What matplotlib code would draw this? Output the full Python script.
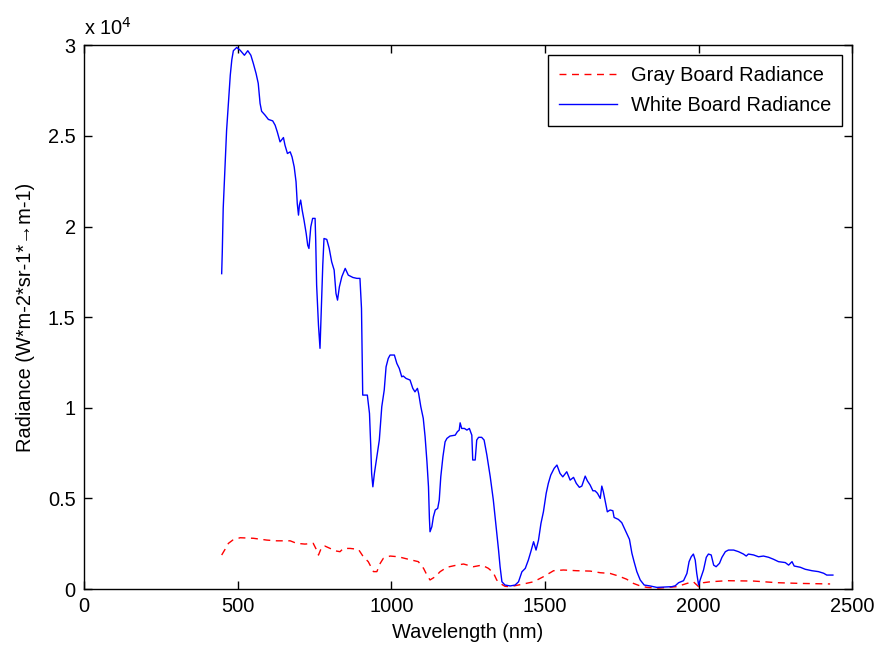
import matplotlib.pyplot as plt
from matplotlib.lines import Line2D

plt.rcParams["font.family"] = ["Liberation Sans", "DejaVu Sans"]

# white board radiance (nm, W*m-2*sr-1*um-1)
white_nm = [448, 450, 453, 459, 464, 471, 476, 481, 486, 497, 508, 522, 533, 543,
            551, 560, 567, 573, 578, 589, 600, 614, 622, 629, 638, 649, 654, 662,
            671, 677, 684, 690, 694, 698, 701, 705, 710, 716, 723, 728, 732, 738,
            744, 752, 754, 757, 763, 768, 771, 777, 781, 790, 798, 806, 814, 820,
            825, 831, 839, 850, 860, 875, 888, 898, 903, 907, 922, 929, 933, 936,
            940, 945, 953, 961, 969, 977, 983, 990, 996, 1010, 1018, 1026, 1034,
            1039, 1048, 1061, 1070, 1077, 1085, 1089, 1096, 1104, 1110, 1116, 1121,
            1124, 1126, 1132, 1137, 1143, 1151, 1156, 1161, 1168, 1175, 1181, 1191,
            1208, 1215, 1221, 1224, 1229, 1238, 1246, 1254, 1262, 1265, 1273, 1278,
            1284, 1294, 1302, 1311, 1322, 1332, 1341, 1349, 1354, 1360, 1370, 1387,
            1403, 1414, 1425, 1436, 1446, 1454, 1463, 1471, 1479, 1487, 1495, 1504,
            1511, 1519, 1530, 1539, 1549, 1558, 1571, 1582, 1593, 1602, 1612, 1620,
            1631, 1638, 1647, 1656, 1663, 1671, 1680, 1685, 1690, 1696, 1703, 1712,
            1721, 1725, 1739, 1750, 1761, 1775, 1783, 1790, 1799, 1810, 1823, 1842,
            1864, 1913, 1924, 1935, 1951, 1962, 1969, 1976, 1983, 1989, 1994, 2000,
            2005, 2016, 2025, 2032, 2041, 2049, 2057, 2068, 2076, 2087, 2097, 2114,
            2130, 2146, 2155, 2162, 2179, 2195, 2211, 2228, 2244, 2260, 2282, 2293,
            2304, 2311, 2331, 2347, 2369, 2390, 2407, 2417, 2437]
white_val = [17400, 18600, 21000, 23300, 25300, 27070, 28350, 29200, 29700, 29880,
             29730, 29450, 29700, 29450, 29000, 28440, 27900, 26790, 26360, 26150,
             25910, 25830, 25590, 25220, 24670, 24910, 24490, 24030, 24120, 23840,
             23290, 22470, 21270, 20630, 21180, 21460, 20900, 20350, 19620, 18970,
             18790, 19980, 20450, 20450, 19250, 16770, 14560, 13280, 14840, 17870,
             19340, 19290, 18790, 18050, 17600, 16310, 15940, 16670, 17230, 17690,
             17320, 17190, 17140, 17140, 15480, 10700, 10700, 9690, 7940, 6380,
             5640, 6380, 7300, 8220, 10060, 10980, 12260, 12720, 12910, 12910,
             12450, 12170, 11710, 11750, 11620, 11530, 11070, 10880, 11070, 10790,
             10060, 9420, 8400, 7020, 5640, 3900, 3160, 3440, 3990, 4360, 4450,
             4910, 6190, 7300, 8120, 8310, 8440, 8490, 8680, 8770, 9170, 8860,
             8860, 8770, 8860, 8490, 7120, 7120, 8220, 8370, 8370, 8220, 7390,
             6190, 4910, 3440, 2150, 1230, 400, 220, 170, 220, 400, 950, 1140,
             1600, 2060, 2610, 2150, 2700, 3620, 4260, 5280, 5830, 6290, 6660,
             6840, 6380, 6190, 6470, 6010, 6160, 5830, 5610, 5680, 6230, 5970,
             5740, 5420, 5420, 5280, 5000, 5680, 5370, 4870, 4260, 4360, 4320,
             3950, 3840, 3660, 3250, 2740, 1970, 1510, 960, 500, 220, 170, 90,
             130, 180, 350, 460, 860, 1510, 1780, 1930, 1600, 860, 220, 500,
             1050, 1750, 1930, 1880, 1320, 1230, 1420, 1750, 2060, 2150, 2150,
             2060, 1930, 1820, 1930, 1880, 1780, 1820, 1750, 1640, 1510, 1460,
             1320, 1510, 1270, 1200, 1090, 1010, 960, 870, 770, 770]

# gray board radiance
gray_nm = [448, 459, 470, 484, 508, 551, 595, 627, 671, 692, 719, 746, 757, 763,
           774, 784, 801, 817, 833, 844, 866, 893, 909, 925, 942, 953, 964, 974,
           996, 1023, 1056, 1088, 1105, 1116, 1126, 1143, 1159, 1181, 1213, 1235,
           1267, 1295, 1316, 1332, 1343, 1354, 1370, 1387, 1425, 1463, 1495, 1528,
           1560, 1604, 1647, 1680, 1712, 1739, 1766, 1788, 1810, 1832, 1870, 1929,
           1962, 1983, 2000, 2016, 2038, 2092, 2179, 2255, 2331, 2428]
gray_val = [1875, 2190, 2520, 2700, 2830, 2800, 2700, 2660, 2660, 2520, 2480, 2520,
            2150, 1875, 2330, 2370, 2240, 2110, 2060, 2240, 2240, 2190, 1780, 1510,
            960, 960, 1420, 1690, 1820, 1780, 1640, 1510, 1140, 770, 500, 680, 960,
            1200, 1320, 1380, 1230, 1320, 1140, 900, 500, 310, 150, 130, 260, 400,
            680, 1010, 1050, 1010, 990, 900, 860, 720, 540, 310, 170, 90, 50, 130,
            310, 400, 130, 350, 400, 460, 440, 350, 310, 280]

SCALE = 1e4
FS = 14.4
DASH = (0, (5, 4))

fig = plt.figure(figsize=(8.75, 6.47), dpi=100)
ax = fig.add_axes([0.096, 0.0896, 0.878, 0.8404])

ax.plot(gray_nm, [v / SCALE for v in gray_val], color="#ff0000", linestyle=DASH,
        linewidth=1.0, label="Gray Board Radiance")
ax.plot(white_nm, [v / SCALE for v in white_val], color="#0000ff", linewidth=1.0,
        label="White Board Radiance")

ax.set_xlim(0, 2500)
ax.set_ylim(0, 3)
ax.set_xticks([0, 500, 1000, 1500, 2000, 2500])
ax.set_yticks([0, 0.5, 1, 1.5, 2, 2.5, 3])
ax.set_yticklabels(["0", "0.5", "1", "1.5", "2", "2.5", "3"])
ax.tick_params(direction="in", length=6, width=1, labelsize=FS, top=True, right=True,
               pad=6)
for spine in ax.spines.values():
    spine.set_linewidth(1.0)

ax.set_xlabel("Wavelength (nm)", fontsize=FS, labelpad=5)
ax.set_ylabel("Radiance (W*m-2*sr-1*\u2192m-1)", fontsize=FS, labelpad=9)
ax.text(0.0, 1.012, "x 10$^{4}$", transform=ax.transAxes, fontsize=FS,
        ha="left", va="bottom")

handles = [Line2D([], [], color="#ff0000", linestyle=DASH, linewidth=1.0),
           Line2D([], [], color="#0000ff", linewidth=1.0)]
leg = ax.legend(handles, ["Gray Board Radiance", "White Board Radiance"],
                loc="upper right", fontsize=FS, fancybox=False, framealpha=1,
                edgecolor="black", borderaxespad=0.5, handlelength=2.9,
                handletextpad=0.7, borderpad=0.55, labelspacing=0.55)
leg.get_frame().set_linewidth(1.0)

fig.savefig("out.png", dpi=100)
